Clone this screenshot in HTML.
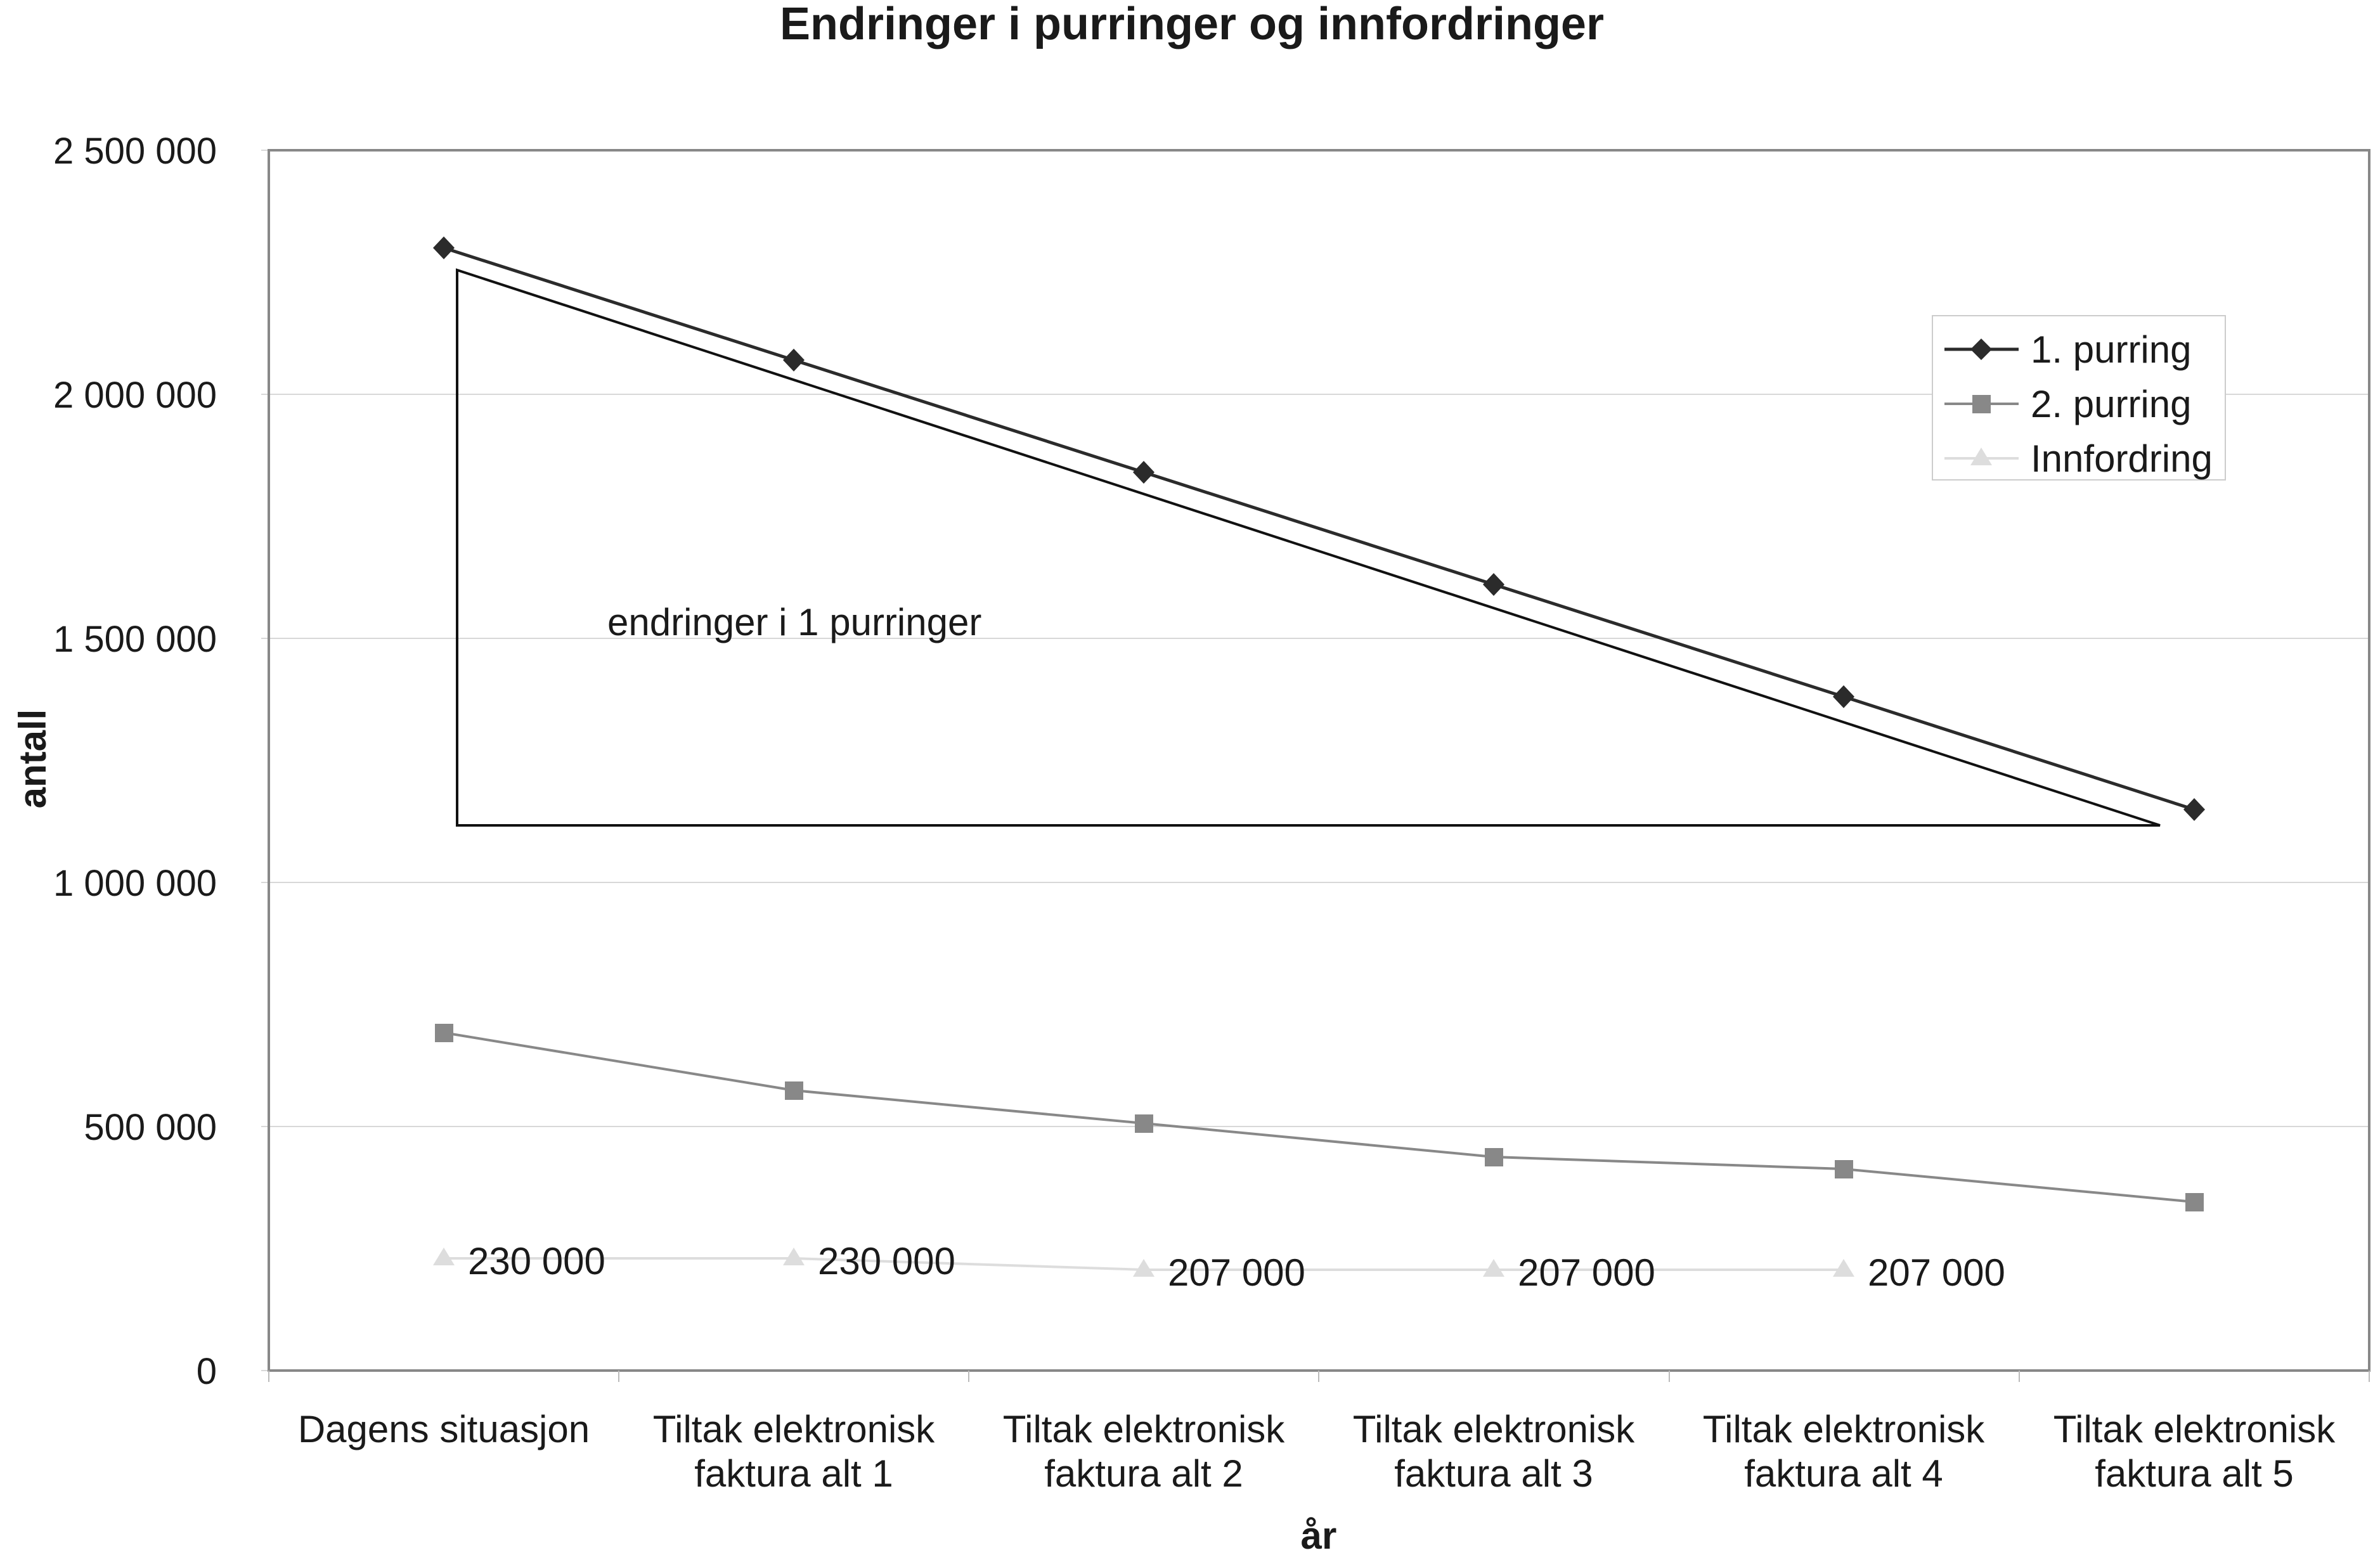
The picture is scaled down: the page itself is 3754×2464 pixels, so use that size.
<!DOCTYPE html>
<html><head><meta charset="utf-8"><style>html,body{margin:0;padding:0;background:#fff}svg{display:block}</style></head>
<body>
<svg width="3754" height="2464" viewBox="0 0 3754 2464" xmlns="http://www.w3.org/2000/svg" font-family="Liberation Sans, Arial, sans-serif" fill="#1a1a1a">
<rect width="3754" height="2464" fill="#fff"/>
<text x="1880" y="62" font-size="72" font-weight="bold" text-anchor="middle">Endringer i purringer og innfordringer</text>
<g stroke="#d8d8d8" stroke-width="2">
<line x1="412" y1="622" x2="3737" y2="622"/>
<line x1="412" y1="1007" x2="3737" y2="1007"/>
<line x1="412" y1="1392" x2="3737" y2="1392"/>
<line x1="412" y1="1777" x2="3737" y2="1777"/>
<line x1="412" y1="237" x2="424" y2="237"/>
<line x1="412" y1="2162" x2="424" y2="2162"/>
</g>
<rect x="424" y="237" width="3313" height="1925" fill="none" stroke="#888" stroke-width="4"/>
<g stroke="#bbb" stroke-width="2">
<line x1="424" y1="2162" x2="424" y2="2180"/><line x1="976" y1="2162" x2="976" y2="2180"/><line x1="1528" y1="2162" x2="1528" y2="2180"/><line x1="2080" y1="2162" x2="2080" y2="2180"/><line x1="2633" y1="2162" x2="2633" y2="2180"/><line x1="3185" y1="2162" x2="3185" y2="2180"/><line x1="3737" y1="2162" x2="3737" y2="2180"/>
</g>
<g font-size="58" text-anchor="end">
<text x="342" y="258">2 500 000</text>
<text x="342" y="643">2 000 000</text>
<text x="342" y="1028">1 500 000</text>
<text x="342" y="1413">1 000 000</text>
<text x="342" y="1798">500 000</text>
<text x="342" y="2183">0</text>
</g>
<text transform="translate(72,1197) rotate(-90)" font-size="60" font-weight="bold" text-anchor="middle">antall</text>
<g font-size="60" text-anchor="middle">
<text x="700" y="2275">Dagens situasjon</text>
<text x="1252" y="2275">Tiltak elektronisk</text><text x="1252" y="2345">faktura alt 1</text>
<text x="1804" y="2275">Tiltak elektronisk</text><text x="1804" y="2345">faktura alt 2</text>
<text x="2356" y="2275">Tiltak elektronisk</text><text x="2356" y="2345">faktura alt 3</text>
<text x="2908" y="2275">Tiltak elektronisk</text><text x="2908" y="2345">faktura alt 4</text>
<text x="3461" y="2275">Tiltak elektronisk</text><text x="3461" y="2345">faktura alt 5</text>
</g>
<text x="2080" y="2443" font-size="60" font-weight="bold" text-anchor="middle">år</text>
<polygon points="721,426 721,1302 3407,1302" fill="none" stroke="#111" stroke-width="4"/>
<text x="958" y="1002" font-size="60">endringer i 1 purringer</text>
<polyline points="700,1985 1252,1985 1804,2003 2356,2003 2908,2003" fill="none" stroke="#ddd" stroke-width="4"/>
<g fill="#ddd">
<polygon points="700,1968 717,1996 683,1996"/><polygon points="1252,1968 1269,1996 1235,1996"/><polygon points="1804,1986 1821,2014 1787,2014"/><polygon points="2356,1986 2373,2014 2339,2014"/><polygon points="2908,1986 2925,2014 2891,2014"/>
</g>
<g font-size="60">
<text x="738" y="2010">230 000</text><text x="1290" y="2010">230 000</text><text x="1842" y="2028">207 000</text><text x="2394" y="2028">207 000</text><text x="2946" y="2028">207 000</text>
</g>
<polyline points="700,1629 1252,1720 1804,1772 2356,1825 2908,1844 3461,1896" fill="none" stroke="#888" stroke-width="4"/>
<g fill="#888">
<rect x="686" y="1615" width="29" height="29"/><rect x="1238" y="1706" width="29" height="29"/><rect x="1790" y="1758" width="29" height="29"/><rect x="2342" y="1811" width="29" height="29"/><rect x="2894" y="1830" width="29" height="29"/><rect x="3447" y="1882" width="29" height="29"/>
</g>
<polyline points="700,391 1252,568 1804,745 2356,922 2908,1099 3461,1277" fill="none" stroke="#2b2b2b" stroke-width="5"/>
<g fill="#2b2b2b">
<polygon points="700,373 717,391 700,409 683,391"/><polygon points="1252,550 1269,568 1252,586 1235,568"/><polygon points="1804,727 1821,745 1804,763 1787,745"/><polygon points="2356,904 2373,922 2356,940 2339,922"/><polygon points="2908,1081 2925,1099 2908,1117 2891,1099"/><polygon points="3461,1259 3478,1277 3461,1295 3444,1277"/>
</g>
<rect x="3048" y="498" width="462" height="259" fill="#fff" stroke="#ccc" stroke-width="2"/>
<line x1="3067" y1="551" x2="3184" y2="551" stroke="#2b2b2b" stroke-width="5"/>
<polygon points="3125,534 3142,551 3125,568 3108,551" fill="#2b2b2b"/>
<line x1="3067" y1="637" x2="3184" y2="637" stroke="#888" stroke-width="4"/>
<rect x="3111" y="623" width="29" height="29" fill="#888"/>
<line x1="3067" y1="723" x2="3184" y2="723" stroke="#ddd" stroke-width="4"/>
<polygon points="3125,706 3142,734 3108,734" fill="#ddd"/>
<g font-size="60"><text x="3203" y="572">1. purring</text><text x="3203" y="658">2. purring</text><text x="3203" y="744">Innfordring</text></g>
</svg>
</body></html>
